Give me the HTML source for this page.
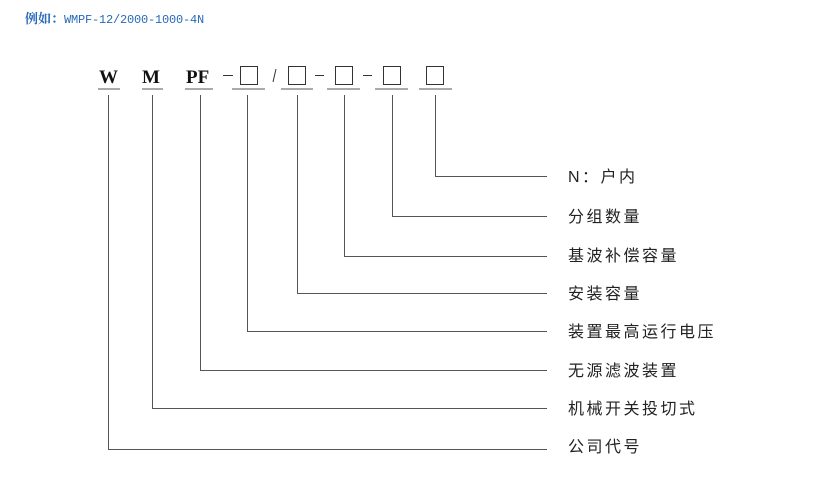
<!DOCTYPE html>
<html><head><meta charset="utf-8"><style>
body{margin:0;width:840px;height:482px;background:#fff;overflow:hidden;position:relative;font-family:"Liberation Sans","Noto Sans CJK SC",sans-serif}
.t{position:absolute;left:568px;font-size:16px;letter-spacing:2.5px;color:#222;line-height:20px}
</style></head><body>
<div style="position:absolute;left:25px;top:8px;color:#2a6ab8;font-size:13px;font-family:'Liberation Serif','Noto Serif CJK SC',serif;font-weight:bold">例如：<span style="font-size:12px;font-family:'Liberation Mono',monospace;font-weight:normal;letter-spacing:-0.2px">WMPF-12/2000-1000-4N</span></div>
<svg width="840" height="482" style="position:absolute;left:0;top:0">
<g font-family="Liberation Serif,serif" font-weight="bold" font-size="19" fill="#111">
<text x="99" y="83">W</text><text x="142" y="83">M</text><text x="186" y="83">PF</text>
</g>
<g stroke="#333" stroke-width="1" fill="none">
<line x1="223" y1="75.5" x2="233" y2="75.5"/>
<line x1="315" y1="75.5" x2="324" y2="75.5"/>
<line x1="363" y1="75.5" x2="372" y2="75.5"/>
<line x1="276" y1="69" x2="273" y2="82"/>
<rect x="240.5" y="66.5" width="17" height="18"/>
<rect x="288.5" y="66.5" width="17" height="18"/>
<rect x="335.5" y="66.5" width="17" height="18"/>
<rect x="383.5" y="66.5" width="17" height="18"/>
<rect x="426.5" y="66.5" width="17" height="18"/>
</g>
<g stroke="#777" stroke-width="1.2">
<line x1="98" y1="89" x2="120" y2="89"/>
<line x1="142" y1="89" x2="163" y2="89"/>
<line x1="185" y1="89" x2="213" y2="89"/>
<line x1="232" y1="89" x2="265" y2="89"/>
<line x1="281" y1="89" x2="313" y2="89"/>
<line x1="327" y1="89" x2="360" y2="89"/>
<line x1="375" y1="89" x2="408" y2="89"/>
<line x1="419" y1="89" x2="452" y2="89"/>
</g>
<g stroke="#555" stroke-width="1" fill="none">
<polyline points="435.5,95 435.5,176.5 547,176.5"/>
<polyline points="392.5,95 392.5,216.5 547,216.5"/>
<polyline points="344.5,95 344.5,256.5 547,256.5"/>
<polyline points="297.5,95 297.5,293.5 547,293.5"/>
<polyline points="247.5,95 247.5,331.5 547,331.5"/>
<polyline points="200.5,95 200.5,370.5 547,370.5"/>
<polyline points="152.5,95 152.5,408.5 547,408.5"/>
<polyline points="108.5,95 108.5,449.5 547,449.5"/>
</g>
</svg>
<div class="t" style="top:168px">N：户内</div>
<div class="t" style="top:208px">分组数量</div>
<div class="t" style="top:247px">基波补偿容量</div>
<div class="t" style="top:285px">安装容量</div>
<div class="t" style="top:323px">装置最高运行电压</div>
<div class="t" style="top:362px">无源滤波装置</div>
<div class="t" style="top:400px">机械开关投切式</div>
<div class="t" style="top:438px">公司代号</div>
</body></html>
